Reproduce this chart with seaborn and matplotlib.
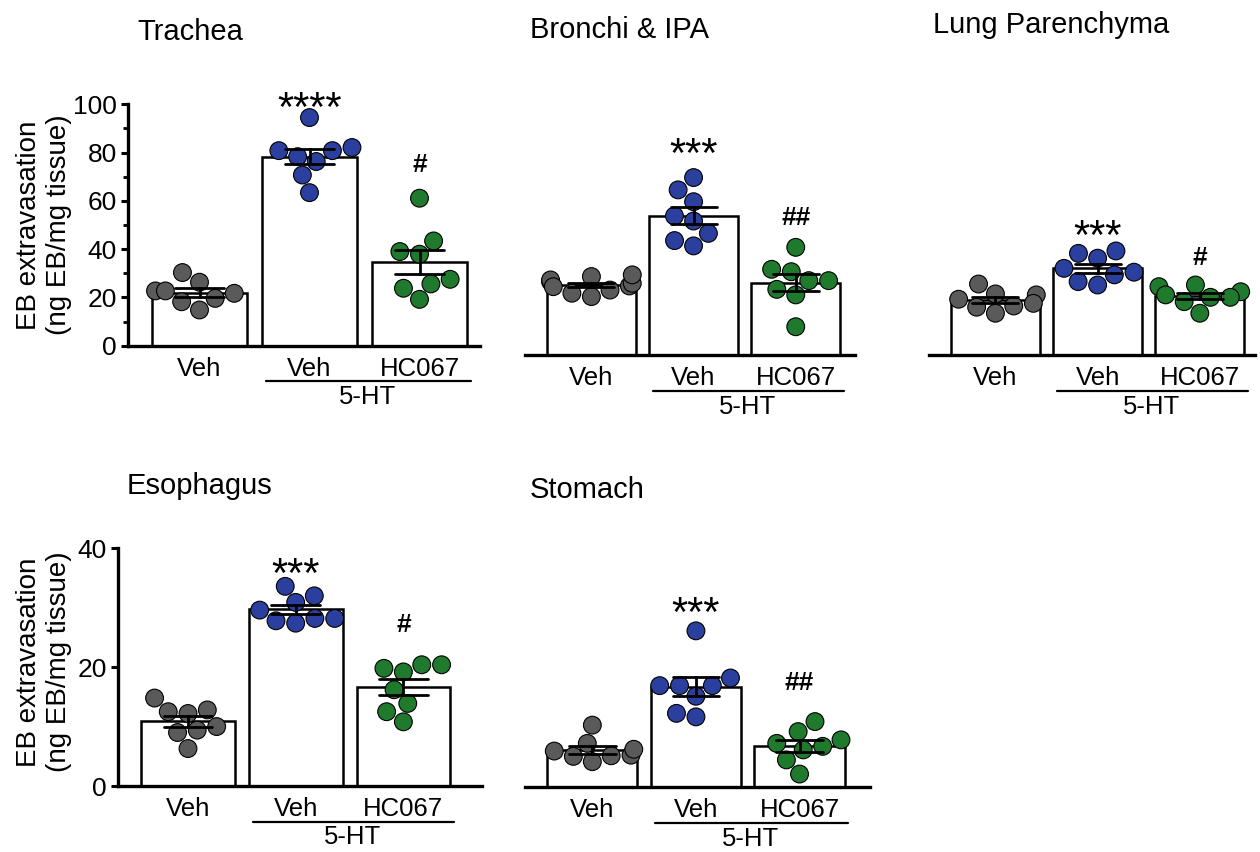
import numpy as np
import pandas as pd
import matplotlib.pyplot as plt
import matplotlib.transforms as mtransforms
import seaborn as sns

# groupes et etiquettes
groups = ["Veh", "5-HT Veh", "5-HT HC067"]
tick_labels = ["Veh", "Veh", "HC067"]
colors = ["#5a5a5a", "#2b3f9f", "#1f7a2d"]

# valeurs (ng EB/mg tissue)
trachea_veh = [30.3, 18.2, 22.7, 19.6, 22.7, 26.3, 14.8, 21.7]
trachea_5ht = [80.8, 78.3, 94.5, 76.3, 63.4, 80.8, 70.7, 82.1]
trachea_hc = [39.0, 27.5, 19.2, 61.1, 43.4, 25.6, 37.9, 23.8]

bronchi_veh = [26.9, 30.4, 28.6, 31.1, 32.5, 24.2, 29.7, 33.2, 25.6, 28.3]
bronchi_5ht = [68.4, 45.2, 57.6, 50.4, 73.5, 63.5, 55.5, 47.4]
bronchi_hc = [44.6, 35.5, 34.5, 30.8, 30.8, 27.2, 24.9, 11.7]

lung_veh = [19.8, 24.9, 20.3, 23.1, 25.3, 17.3, 29.4, 21.4]
lung_5ht = [43.1, 42.1, 30.4, 35.9, 33.2, 34.3, 40.1, 29.0]
lung_hc = [29.0, 22.1, 26.2, 23.9, 23.9, 28.3, 24.9, 17.3]

esoph_veh = [14.8, 10.0, 6.3, 12.8, 12.2, 9.0, 12.5, 9.4]
esoph_5ht = [27.8, 29.6, 32.0, 28.2, 33.6, 28.2, 30.9, 27.4]
esoph_hc = [20.4, 16.2, 10.8, 19.2, 19.8, 12.5, 20.4, 13.9]

stomach_veh = [5.4, 6.4, 5.2, 10.5, 6.1, 7.4, 4.3, 5.3]
stomach_5ht = [17.2, 18.5, 26.5, 15.4, 11.9, 12.5, 17.2, 17.2]
stomach_hc = [9.4, 6.3, 7.4, 11.1, 8.0, 4.6, 6.9, 2.2]

# marques de significativite: (texte, y)
trachea_sig = [("****", 103), ("#", 76)]
bronchi_sig = [("***", 87.7), ("##", 58)]
lung_sig = [("***", 53.9), ("#", 41.4)]
esoph_sig = [("***", 37.5), ("#", 27.6)]
stomach_sig = [("***", 31.3), ("##", 18.1)]

sns.set_style("ticks")
plt.rcParams["font.family"] = ["Liberation Sans", "DejaVu Sans"]
plt.rcParams.update({"text.color": "black", "axes.edgecolor": "black",
                     "xtick.color": "black", "ytick.color": "black",
                     "axes.labelcolor": "black"})

W, H = 1260, 852
fig = plt.figure(figsize=(W / 100, H / 100), dpi=100)


def add_ax(l, t, r, b):
    return fig.add_axes([l / W, 1 - b / H, (r - l) / W, (b - t) / H])


def draw_panel(ax, veh, ht, hc, ymax, yticks, show_y, sig, xright, minor=False):
    df = pd.DataFrame({
        "group": np.repeat(groups, [len(veh), len(ht), len(hc)]),
        "value": np.concatenate([veh, ht, hc]),
    })
    sns.barplot(data=df, x="group", y="value", order=groups, errorbar="se",
                capsize=0.45, width=0.87, color="white", saturation=1,
                edgecolor="black", linewidth=1.8,
                err_kws={"color": "black", "linewidth": 2.0}, ax=ax)
    sns.swarmplot(data=df, x="group", y="value", order=groups, hue="group",
                  hue_order=groups, palette=colors, size=12.8, edgecolor="black",
                  linewidth=0.8, legend=False, zorder=3, ax=ax)
    for ln in ax.lines:
        ln.set_zorder(4)

    ax.set_xlim(-0.65, xright)
    ax.set_ylim(0, ymax)
    ax.set_xlabel("")
    ax.set_ylabel("")
    ax.set_xticks(range(3))
    ax.set_xticklabels(tick_labels, fontsize=18.5)
    ax.tick_params(axis="x", length=0, pad=8)
    for s in ["top", "right"]:
        ax.spines[s].set_visible(False)
    ax.spines["bottom"].set_linewidth(2.4)
    if show_y:
        ax.spines["left"].set_linewidth(2.4)
        ax.set_yticks(yticks)
        ax.tick_params(axis="y", labelsize=19, length=5, width=2.2, pad=3)
        if minor:
            ax.set_yticks(np.arange(10, ymax, 20), minor=True)
            ax.tick_params(axis="y", which="minor", length=3.5, width=2.0)
    else:
        ax.spines["left"].set_visible(False)
        ax.set_yticks([])

    # ligne et etiquette 5-HT sous les deux derniers groupes
    tr_line = ax.get_xaxis_transform() + mtransforms.ScaledTranslation(0, -0.355, fig.dpi_scale_trans)
    ax.plot([0.6, 2.47], [0, 0], color="black", lw=1.6, transform=tr_line, clip_on=False)
    tr_txt = ax.get_xaxis_transform() + mtransforms.ScaledTranslation(0, -0.515, fig.dpi_scale_trans)
    ax.text(1.53, 0, "5-HT", transform=tr_txt, ha="center", va="center", fontsize=18.5)

    # etoiles et dieses
    (star, ys), (hashm, yh) = sig
    ax.annotate(star, (1, ys), xytext=(0, -17), textcoords="offset points",
                ha="center", va="baseline", fontsize=30, annotation_clip=False)
    ax.annotate(hashm, (2, yh), xytext=(0, -7), textcoords="offset points",
                ha="center", va="baseline", fontsize=19, fontweight="bold",
                annotation_clip=False)


ax1 = add_ax(128, 104.3, 480, 345.7)
draw_panel(ax1, trachea_veh, trachea_5ht, trachea_hc, 100, [0, 20, 40, 60, 80, 100],
           True, trachea_sig, 2.55, minor=True)
ax2 = add_ax(525, 113.6, 855, 355)
draw_panel(ax2, bronchi_veh, bronchi_5ht, bronchi_hc, 100, [], False, bronchi_sig, 2.58)
ax3 = add_ax(929, 113.6, 1255, 355)
draw_panel(ax3, lung_veh, lung_5ht, lung_hc, 100, [], False, lung_sig, 2.54)
ax4 = add_ax(118, 548.3, 482, 786)
draw_panel(ax4, esoph_veh, esoph_5ht, esoph_hc, 40, [0, 20, 40], True, esoph_sig, 2.73)
ax5 = add_ax(525, 551.3, 870, 787)
draw_panel(ax5, stomach_veh, stomach_5ht, stomach_hc, 40, [], False, stomach_sig, 2.68)

# titres
titles = [("Trachea", 137, 32), ("Bronchi & IPA", 530, 30), ("Lung Parenchyma", 933, 25),
          ("Esophagus", 127, 486), ("Stomach", 530, 490)]
for txt, x, y in titles:
    fig.text(x / W, 1 - y / H, txt, ha="left", va="center", fontsize=21)

ylab = "EB extravasation\n(ng EB/mg tissue)"
fig.text(44 / W, 1 - 225 / H, ylab, rotation=90, ha="center", va="center", fontsize=20)
fig.text(44 / W, 1 - 662 / H, ylab, rotation=90, ha="center", va="center", fontsize=20)

fig.savefig("out.png", dpi=100)
